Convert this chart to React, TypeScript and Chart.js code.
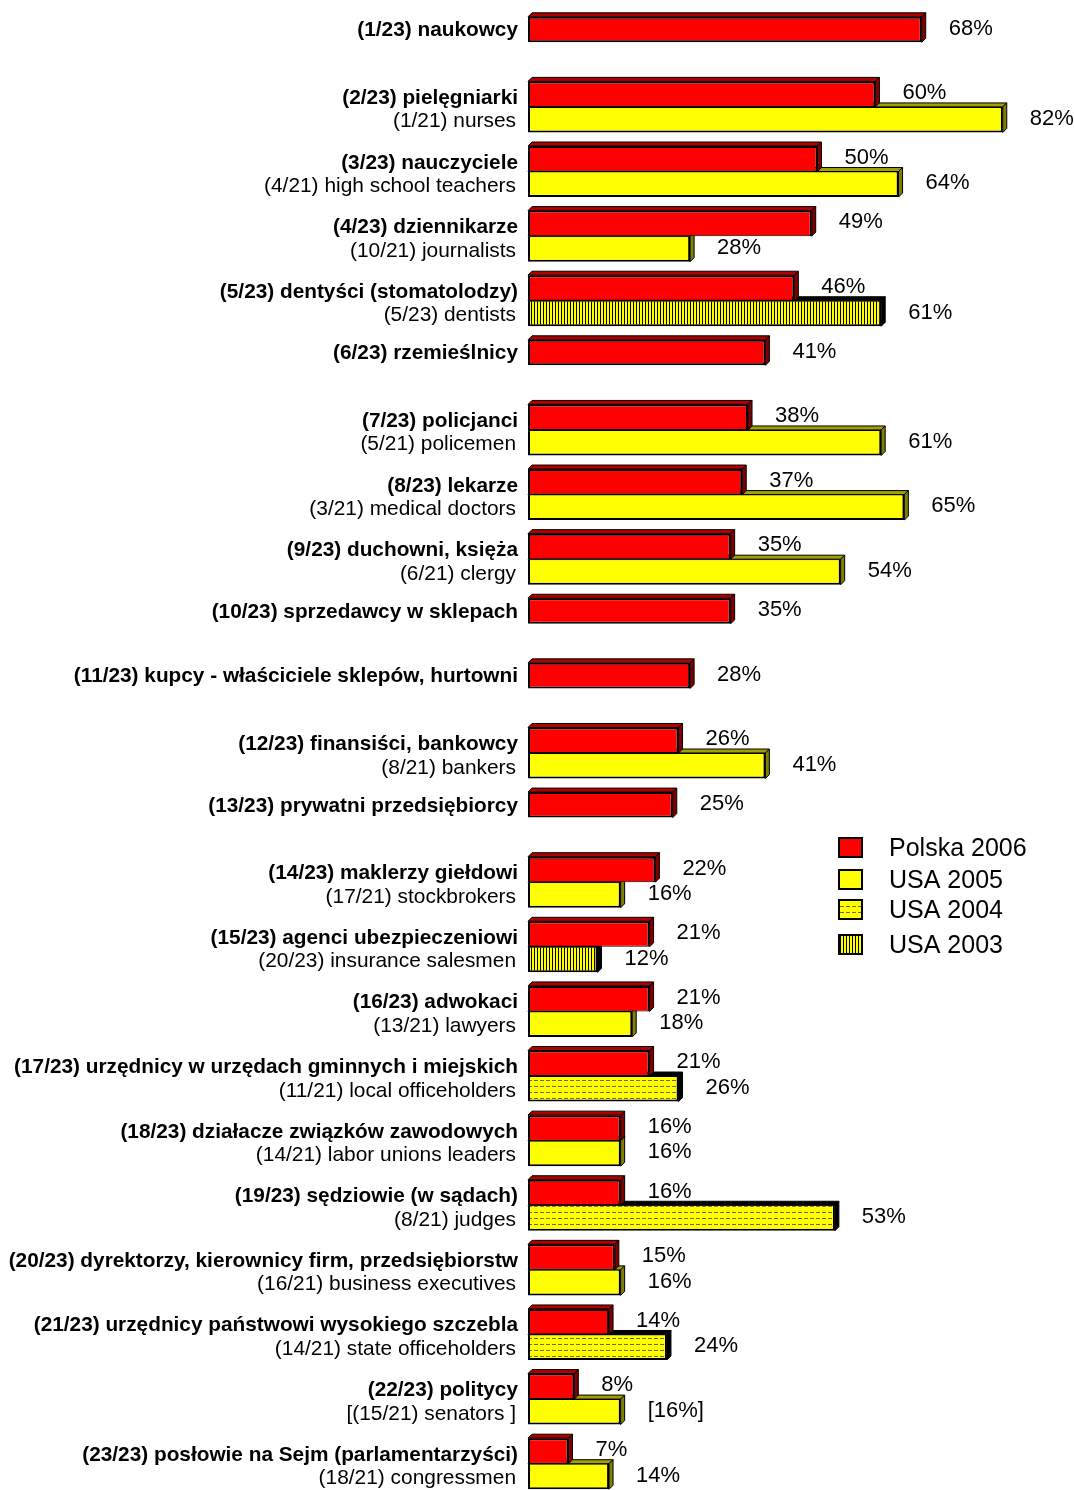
import React, { useEffect, useRef } from 'react';
import { Chart, registerables } from 'chart.js';

Chart.register(...registerables);

const plLabels = [
  '(1/23) naukowcy',
  '(2/23) pielęgniarki',
  '(3/23) nauczyciele',
  '(4/23) dziennikarze',
  '(5/23) dentyści (stomatolodzy)',
  '(6/23) rzemieślnicy',
  '(7/23) policjanci',
  '(8/23) lekarze',
  '(9/23) duchowni, księża',
  '(10/23) sprzedawcy w sklepach',
  '(11/23) kupcy - właściciele sklepów, hurtowni',
  '(12/23) finansiści, bankowcy',
  '(13/23) prywatni przedsiębiorcy',
  '(14/23) maklerzy giełdowi',
  '(15/23) agenci ubezpieczeniowi',
  '(16/23) adwokaci',
  '(17/23) urzędnicy w urzędach gminnych i miejskich',
  '(18/23) działacze związków zawodowych',
  '(19/23) sędziowie (w sądach)',
  '(20/23) dyrektorzy, kierownicy firm, przedsiębiorstw',
  '(21/23) urzędnicy państwowi wysokiego szczebla',
  '(22/23) politycy',
  '(23/23) posłowie na Sejm (parlamentarzyści)',
];

const usLabels = [
  '',
  '(1/21) nurses',
  '(4/21) high school teachers',
  '(10/21) journalists',
  '(5/23) dentists',
  '',
  '(5/21) policemen',
  '(3/21) medical doctors',
  '(6/21) clergy',
  '',
  '',
  '(8/21) bankers',
  '',
  '(17/21) stockbrokers',
  '(20/23) insurance salesmen',
  '(13/21) lawyers',
  '(11/21) local officeholders',
  '(14/21) labor unions leaders',
  '(8/21) judges',
  '(16/21) business executives',
  '(14/21) state officeholders',
  '[(15/21) senators ]',
  '(18/21) congressmen',
];

const plValues = [68, 60, 50, 49, 46, 41, 38, 37, 35, 35, 28, 26, 25, 22, 21, 21, 21, 16, 16, 15, 14, 8, 7];

const usValues = [null, 82, 64, 28, 61, null, 61, 65, 54, null, null, 41, null, 16, 12, 18, 26, 16, 53, 16, 24, 16, 14];

const usYears = [null, 2005, 2005, 2005, 2003, null, 2005, 2005, 2005, null, null, 2005, null, 2005, 2003, 2005, 2004, 2005, 2004, 2005, 2004, 2005, 2005];

const usBracketed = [21];

const legendLabels = ['Polska 2006', 'USA 2005', 'USA 2004', 'USA 2003'];

const FONT = "'Liberation Sans', Arial, sans-serif";

function makePattern(kind: 'v' | 'h'): CanvasPattern | string {
  const c = document.createElement('canvas');
  const g = c.getContext('2d');
  if (!g) return '#ffff00';
  if (kind === 'v') {
    c.width = 3;
    c.height = 1;
    g.fillStyle = '#ffff00';
    g.fillRect(0, 0, 3, 1);
    g.fillStyle = '#000000';
    g.fillRect(0, 0, 1, 1);
  } else {
    c.width = 6;
    c.height = 6;
    g.fillStyle = '#ffff00';
    g.fillRect(0, 0, 6, 6);
    g.fillStyle = '#6b6b3a';
    g.fillRect(0, 0, 4, 1);
  }
  const p = g.createPattern(c, 'repeat');
  return p || '#ffff00';
}

export default function App() {
  const ref = useRef<HTMLCanvasElement | null>(null);

  useEffect(() => {
    const canvas = ref.current;
    if (!canvas) return;
    const pat2004 = makePattern('h');
    const pat2003 = makePattern('v');
    const usFill = (year: number | null) =>
      year === 2004 ? pat2004 : year === 2003 ? pat2003 : '#ffff00';

    const depth = 4;

    const threeD = {
      id: 'threeD',
      beforeDatasetsDraw(chart: any) {
        const ctx = chart.ctx;
        for (const d of [1, 0]) {
          const meta = chart.getDatasetMeta(d);
          meta.data.forEach((el: any, i: number) => {
            const v = chart.data.datasets[d].data[i];
            if (v == null) return;
            const { x, y, base, height } = el.getProps(['x', 'y', 'base', 'height'], true);
            const top = y - height / 2;
            const bottom = y + height / 2;
            let topCol = '#b00000';
            let sideCol = '#800000';
            if (d === 1) {
              if (usYears[i] === 2005) {
                topCol = '#a0a000';
                sideCol = '#808000';
              } else {
                topCol = '#000000';
                sideCol = '#000000';
              }
            }
            ctx.save();
            ctx.strokeStyle = '#000';
            ctx.lineWidth = 1;
            ctx.fillStyle = topCol;
            ctx.beginPath();
            ctx.moveTo(base, top);
            ctx.lineTo(base + depth, top - depth);
            ctx.lineTo(x + depth, top - depth);
            ctx.lineTo(x, top);
            ctx.closePath();
            ctx.fill();
            ctx.stroke();
            ctx.fillStyle = sideCol;
            ctx.beginPath();
            ctx.moveTo(x, top);
            ctx.lineTo(x + depth, top - depth);
            ctx.lineTo(x + depth, bottom - depth);
            ctx.lineTo(x, bottom);
            ctx.closePath();
            ctx.fill();
            ctx.stroke();
            ctx.restore();
          });
        }
      },
      afterDatasetsDraw(chart: any) {
        const ctx = chart.ctx;
        ctx.save();
        ctx.fillStyle = '#000';
        ctx.textBaseline = 'middle';
        ctx.textAlign = 'left';
        ctx.font = `22px ${FONT}`;
        for (const d of [0, 1]) {
          const meta = chart.getDatasetMeta(d);
          meta.data.forEach((el: any, i: number) => {
            const v = chart.data.datasets[d].data[i];
            if (v == null) return;
            const { x, y } = el.getProps(['x', 'y'], true);
            let txt = `${v}%`;
            if (d === 1 && usBracketed.includes(i)) txt = `[${v}%]`;
            ctx.fillText(txt, x + 27, y - 1);
          });
        }
        // category labels
        const m0 = chart.getDatasetMeta(0);
        m0.data.forEach((el: any, i: number) => {
          const { y, height } = el.getProps(['y', 'height'], true);
          ctx.textAlign = 'right';
          ctx.font = `bold 20.8px ${FONT}`;
          ctx.fillText(plLabels[i], 518, y + (usLabels[i] ? 4 : 1));
          if (usLabels[i]) {
            ctx.font = `20.9px ${FONT}`;
            ctx.fillText(usLabels[i], 516, y + height + 2);
          }
        });
        // legend
        const fills: any[] = ['#ff0000', '#ffff00', pat2004, pat2003];
        const tops = [838, 870, 900, 935];
        ctx.textAlign = 'left';
        ctx.font = `25px ${FONT}`;
        legendLabels.forEach((lab, k) => {
          ctx.fillStyle = fills[k];
          ctx.fillRect(839, tops[k], 23, 19);
          ctx.strokeStyle = '#000';
          ctx.lineWidth = 2;
          ctx.strokeRect(839, tops[k], 23, 19);
          ctx.fillStyle = '#000';
          ctx.fillText(lab, 889, tops[k] + 11);
        });
        ctx.restore();
      },
    };

    const chart = new Chart(canvas, {
      type: 'bar',
      data: {
        labels: plLabels,
        datasets: [
          {
            label: legendLabels[0],
            data: plValues,
            backgroundColor: '#ff0000',
            borderColor: '#000000',
            borderWidth: (c: any) => ({
              left: 2,
              right: 2,
              top: 2,
              bottom: usValues[c.dataIndex] == null ? 2 : 1,
            }),
            borderSkipped: false,
            categoryPercentage: 0.79,
            barPercentage: 1,
          } as any,
          {
            label: 'USA',
            data: usValues,
            backgroundColor: (c: any) => usFill(usYears[c.dataIndex]),
            borderColor: '#000000',
            borderWidth: { left: 2, right: 2, top: 1, bottom: 2 },
            borderSkipped: false,
            categoryPercentage: 0.79,
            barPercentage: 1,
          } as any,
        ],
      },
      options: {
        indexAxis: 'y',
        responsive: false,
        maintainAspectRatio: false,
        animation: false,
        layout: { padding: { left: 528, right: 1, top: 10, bottom: 1 } },
        scales: {
          x: { type: 'linear', min: 0, max: 100, display: false, grid: { display: false } },
          y: { type: 'category', display: false, grid: { display: false }, offset: true },
        },
        plugins: {
          legend: { display: false },
          tooltip: { enabled: false },
        },
      } as any,
      plugins: [threeD],
    });
    return () => chart.destroy();
  }, []);

  return (
    <div
      style={{
        position: 'absolute',
        left: 0,
        top: 0,
        width: 1074,
        height: 1490,
        overflow: 'hidden',
        background: '#ffffff',
      }}
    >
      <canvas ref={ref} width={1108} height={1497} style={{ display: 'block' }} />
    </div>
  );
}
